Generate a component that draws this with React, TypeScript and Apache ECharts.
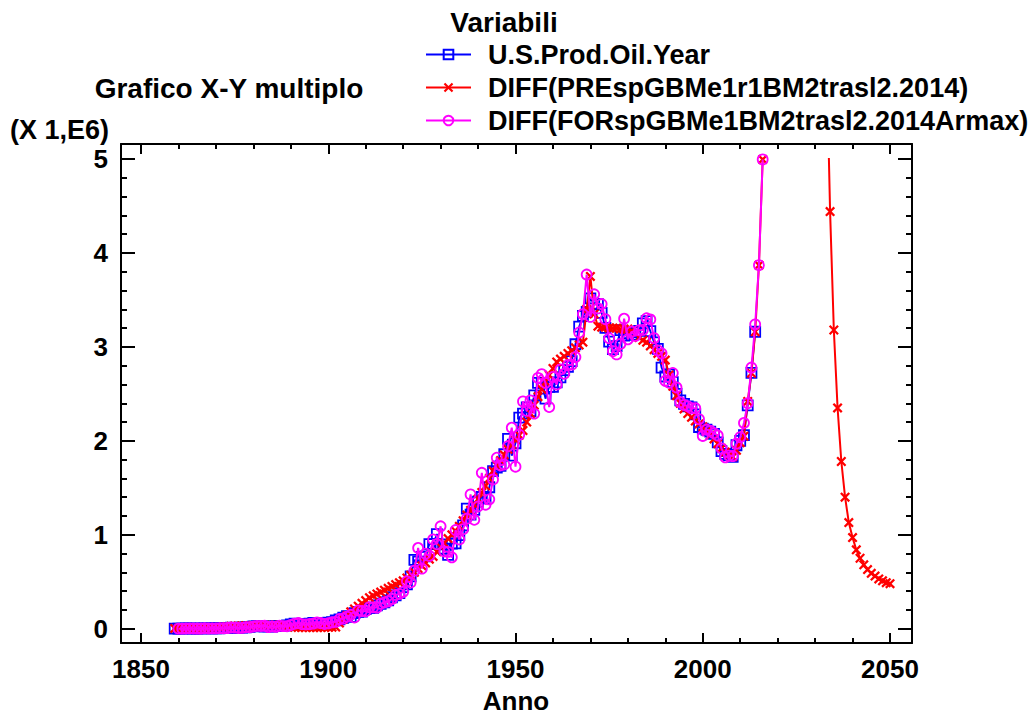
import React, { useEffect, useRef } from "react";
import * as echarts from "echarts";

const FONT = "'Liberation Sans', Arial, sans-serif";

// axis extents (year, value in units of 1E6)
const X_MIN = 1844.66;
const X_MAX = 2055.87;
const Y_MIN = -0.152;
const Y_CLIP = 5.0;
const Y_MAX = 5.16;

const xMajorTicks = [1850, 1900, 1950, 2000, 2050];
const xMinorTicks = [1860, 1870, 1880, 1890, 1910, 1920, 1930, 1940, 1960, 1970, 1980, 1990, 2010, 2020, 2030, 2040];
const yMajorTicks = [0, 1, 2, 3, 4, 5];
const yMinorTicks = [0.2, 0.4, 0.6, 0.8, 1.2, 1.4, 1.6, 1.8, 2.2, 2.4, 2.6, 2.8, 3.2, 3.4, 3.6, 3.8, 4.2, 4.4, 4.6, 4.8];

const seriesNames = [
  "U.S.Prod.Oil.Year",
  "DIFF(PREspGBMe1r1BM2trasl2.2014)",
  "DIFF(FORspGBMe1BM2trasl2.2014Armax)",
];

// U.S.Prod.Oil.Year, 1859..2014
const prodStart = 1859;
const prodValues = [
  0.000, 0.001, 0.002, 0.003, 0.003, 0.002, 0.002, 0.004, 0.003, 0.004,
  0.004, 0.005, 0.005, 0.006, 0.010, 0.011, 0.009, 0.009, 0.013, 0.015,
  0.020, 0.026, 0.028, 0.030, 0.023, 0.024, 0.022, 0.028, 0.028, 0.028,
  0.035, 0.046, 0.054, 0.051, 0.048, 0.049, 0.053, 0.061, 0.060, 0.055,
  0.057, 0.064, 0.069, 0.089, 0.100, 0.117, 0.135, 0.126, 0.166, 0.179,
  0.183, 0.210, 0.220, 0.223, 0.248, 0.266, 0.281, 0.301, 0.335, 0.356,
  0.378, 0.443, 0.472, 0.558, 0.732, 0.714, 0.764, 0.771, 0.901, 0.901,
  1.007, 0.898, 0.851, 0.785, 0.906, 0.908, 0.997, 1.100, 1.279, 1.214,
  1.265, 1.353, 1.402, 1.387, 1.506, 1.678, 1.714, 1.734, 1.857, 2.020,
  1.842, 1.974, 2.248, 2.290, 2.357, 2.315, 2.484, 2.617, 2.617, 2.449,
  2.575, 2.575, 2.622, 2.676, 2.753, 2.787, 2.849, 3.028, 3.216, 3.329,
  3.372, 3.517, 3.454, 3.455, 3.361, 3.203, 3.057, 2.976, 3.009, 3.178,
  3.121, 3.146, 3.129, 3.157, 3.171, 3.250, 3.275, 3.168, 3.047, 2.979,
  2.779, 2.685, 2.707, 2.625, 2.499, 2.431, 2.394, 2.366, 2.355, 2.282,
  2.147, 2.131, 2.118, 2.097, 2.073, 1.983, 1.890, 1.862, 1.848, 1.830,
  1.953, 1.999, 2.060, 2.377, 2.724, 3.161,
];

// DIFF(PREspGBMe1r1BM2trasl2.2014), 1859..2050
const preStart = 1859;
const preValues = [
  0.003, 0.004, 0.004, 0.005, 0.005, 0.006, 0.006, 0.007, 0.008, 0.009,
  0.010, 0.012, 0.014, 0.017, 0.021, 0.026, 0.028, 0.029, 0.030, 0.031,
  0.032, 0.033, 0.034, 0.035, 0.036, 0.036, 0.037, 0.037, 0.036, 0.034,
  0.026, 0.020, 0.016, 0.014, 0.013, 0.012, 0.012, 0.012, 0.013, 0.013,
  0.014, 0.015, 0.016, 0.018, 0.060, 0.100, 0.140, 0.180, 0.210, 0.240,
  0.270, 0.300, 0.330, 0.350, 0.370, 0.390, 0.410, 0.430, 0.450, 0.470,
  0.490, 0.510, 0.540, 0.570, 0.600, 0.640, 0.670, 0.700, 0.740, 0.770,
  0.820, 0.870, 0.910, 0.960, 1.000, 1.040, 1.090, 1.150, 1.210, 1.260,
  1.320, 1.380, 1.450, 1.520, 1.600, 1.680, 1.740, 1.790, 1.850, 1.910,
  1.960, 2.010, 2.060, 2.110, 2.200, 2.290, 2.380, 2.470, 2.550, 2.630,
  2.700, 2.770, 2.840, 2.870, 2.900, 2.930, 2.960, 2.990, 3.020, 3.050,
  3.400, 3.750, 3.350, 3.220, 3.210, 3.210, 3.200, 3.200, 3.200, 3.190,
  3.190, 3.190, 3.170, 3.140, 3.100, 3.070, 3.050, 3.010, 2.970, 2.930,
  2.900, 2.860, 2.700, 2.580, 2.480, 2.400, 2.340, 2.290, 2.250, 2.210,
  2.180, 2.150, 2.100, 2.060, 2.020, 1.970, 1.920, 1.880, 1.850, 1.830,
  1.900, 1.980, 2.050, 2.420, 2.720, 3.160, 3.870, 4.995, 6.600, 8.500,
  10.60, 12.80, 14.90, 16.60, 17.80, 18.40, 18.30, 17.50, 16.20, 14.60,
  13.00, 11.60, 10.20, 8.600, 6.200, 4.440, 3.180, 2.350, 1.780, 1.400,
  1.130, 0.970, 0.840, 0.750, 0.680, 0.630, 0.590, 0.560, 0.530, 0.510,
  0.490, 0.480,
];

// DIFF(FORspGBMe1BM2trasl2.2014Armax), 1860..2016
const forStart = 1860;
const forValues = [
  0.001, 0.001, 0.003, 0.004, 0.003, 0.002, 0.002, 0.005, 0.003, 0.004,
  0.004, 0.006, 0.005, 0.007, 0.013, 0.012, 0.008, 0.009, 0.016, 0.016,
  0.023, 0.030, 0.029, 0.031, 0.018, 0.025, 0.020, 0.032, 0.028, 0.027,
  0.040, 0.054, 0.060, 0.049, 0.046, 0.050, 0.055, 0.067, 0.060, 0.051,
  0.058, 0.068, 0.073, 0.103, 0.108, 0.129, 0.148, 0.120, 0.194, 0.188,
  0.186, 0.229, 0.227, 0.225, 0.266, 0.279, 0.292, 0.315, 0.359, 0.371,
  0.393, 0.505, 0.492, 0.618, 0.860, 0.640, 0.799, 0.776, 0.950, 0.901,
  1.090, 0.822, 0.818, 0.760, 1.050, 0.950, 1.059, 1.172, 1.430, 1.160,
  1.301, 1.660, 1.320, 1.377, 1.589, 1.820, 1.739, 1.748, 1.943, 2.140,
  1.725, 2.066, 2.420, 2.319, 2.430, 2.290, 2.670, 2.710, 2.617, 2.360,
  2.680, 2.600, 2.760, 2.714, 2.807, 2.811, 2.892, 3.153, 3.348, 3.770,
  3.320, 3.560, 3.410, 3.456, 3.295, 3.092, 2.955, 2.920, 3.032, 3.300,
  3.081, 3.163, 3.117, 3.177, 3.181, 3.305, 3.292, 3.093, 2.963, 2.931,
  2.639, 2.619, 2.722, 2.568, 2.411, 2.383, 2.368, 2.346, 2.347, 2.231,
  2.052, 2.120, 2.109, 2.082, 2.057, 1.920, 1.825, 1.842, 1.838, 1.970,
  2.039, 2.190, 2.400, 2.780, 3.240, 3.870, 4.995,
];

const toPairs = (start: number, vals: number[]) => vals.map((v, i) => [start + i, v]);

const X_SYMBOL =
  "path://M0,1.6L1.6,0L5,3.4L8.4,0L10,1.6L6.6,5L10,8.4L8.4,10L5,6.6L1.6,10L0,8.4L3.4,5Z";

const labelText = {
  color: "#000",
  fontSize: 26,
  lineHeight: 24,
  fontWeight: "bold" as const,
  fontFamily: FONT,
};

function frameX(position: "top" | "bottom", major: boolean) {
  return {
    gridIndex: 1,
    type: "value",
    min: X_MIN,
    max: X_MAX,
    position,
    axisLine: { show: major, onZero: false, lineStyle: { color: "#000", width: 2 } },
    axisTick: {
      show: true,
      inside: true,
      length: major ? 10 : 5,
      customValues: major ? xMajorTicks : xMinorTicks,
      lineStyle: { color: "#000", width: 2 },
    },
    axisLabel:
      major && position === "bottom"
        ? { show: true, customValues: xMajorTicks, formatter: (v: number) => String(v), margin: 14, ...labelText }
        : { show: false },
    splitLine: { show: false },
  };
}

function frameY(position: "left" | "right", major: boolean) {
  return {
    gridIndex: 1,
    type: "value",
    min: Y_MIN,
    max: Y_MAX,
    position,
    axisLine: { show: major, onZero: false, lineStyle: { color: "#000", width: 2 } },
    axisTick: {
      show: true,
      inside: true,
      length: major ? 14 : 6,
      customValues: major ? yMajorTicks : yMinorTicks,
      lineStyle: { color: "#000", width: 2 },
    },
    axisLabel:
      major && position === "left"
        ? { show: true, customValues: yMajorTicks, formatter: (v: number) => String(v), margin: 13, ...labelText }
        : { show: false },
    splitLine: { show: false },
  };
}

const option: any = {
  animation: false,
  backgroundColor: "#fff",
  grid: [
    { left: 121, top: 159, width: 791, height: 484, containLabel: false, outerBoundsMode: "none" },
    { left: 121, top: 144, width: 791, height: 499, containLabel: false, outerBoundsMode: "none" },
  ],
  xAxis: [
    { gridIndex: 0, type: "value", min: X_MIN, max: X_MAX, show: false, axisLine: { onZero: false } },
    frameX("bottom", true),
    frameX("bottom", false),
    frameX("top", true),
    frameX("top", false),
  ],
  yAxis: [
    { gridIndex: 0, type: "value", min: Y_MIN, max: Y_CLIP, show: false, axisLine: { onZero: false } },
    frameY("left", true),
    frameY("left", false),
    frameY("right", true),
    frameY("right", false),
  ],
  legend: {
    orient: "vertical",
    left: 425,
    top: 38,
    padding: 0,
    itemWidth: 45,
    itemHeight: 12,
    itemGap: 0,
    selectedMode: false,
    data: seriesNames,
    textStyle: {
      color: "#000",
      fontSize: 27,
      fontWeight: "bold",
      fontFamily: FONT,
      lineHeight: 33,
      padding: [0, 0, 0, 12],
    },
  },
  graphic: [
    {
      type: "text",
      x: 504,
      y: 22,
      style: { text: "Variabili", fontSize: 28, fontWeight: "bold", fontFamily: FONT, fill: "#000", align: "center", verticalAlign: "middle" },
    },
    {
      type: "text",
      x: 229,
      y: 88,
      style: { text: "Grafico X-Y multiplo", fontSize: 28, fontWeight: "bold", fontFamily: FONT, fill: "#000", align: "center", verticalAlign: "middle" },
    },
    {
      type: "text",
      x: 10,
      y: 130,
      style: { text: "(X 1,E6)", fontSize: 27, fontWeight: "bold", fontFamily: FONT, fill: "#000", align: "left", verticalAlign: "middle" },
    },
    {
      type: "text",
      x: 516,
      y: 701,
      style: { text: "Anno", fontSize: 26, lineHeight: 24, fontWeight: "bold", fontFamily: FONT, fill: "#000", align: "center", verticalAlign: "middle" },
    },
  ],
  series: [
    {
      name: seriesNames[0],
      type: "line",
      xAxisIndex: 0,
      yAxisIndex: 0,
      data: toPairs(prodStart, prodValues),
      symbol: "rect",
      symbolSize: 10,
      lineStyle: { color: "#0000ff", width: 1.8 },
      itemStyle: { color: "transparent", borderColor: "#0000ff", borderWidth: 1.8 },
      emphasis: { disabled: true },
      clip: true,
      z: 2,
    },
    {
      name: seriesNames[1],
      type: "line",
      xAxisIndex: 0,
      yAxisIndex: 0,
      data: toPairs(preStart, preValues),
      symbol: X_SYMBOL,
      symbolSize: 10,
      lineStyle: { color: "#ff0000", width: 2 },
      itemStyle: { color: "#ff0000" },
      emphasis: { disabled: true },
      clip: true,
      z: 3,
    },
    {
      name: seriesNames[2],
      type: "line",
      xAxisIndex: 0,
      yAxisIndex: 0,
      data: toPairs(forStart, forValues),
      symbol: "circle",
      symbolSize: 10,
      lineStyle: { color: "#ff00ff", width: 2 },
      itemStyle: { color: "transparent", borderColor: "#ff00ff", borderWidth: 1.8 },
      emphasis: { disabled: true },
      clip: true,
      z: 4,
    },
  ],
};

export default function App() {
  const ref = useRef<HTMLDivElement>(null);
  useEffect(() => {
    if (!ref.current) return;
    const chart = echarts.init(ref.current, null, { renderer: "svg" });
    chart.setOption(option);
    return () => chart.dispose();
  }, []);
  return (
    <div
      ref={ref}
      style={{ position: "fixed", left: 0, top: 0, width: 1030, height: 715, background: "#fff" }}
    />
  );
}
